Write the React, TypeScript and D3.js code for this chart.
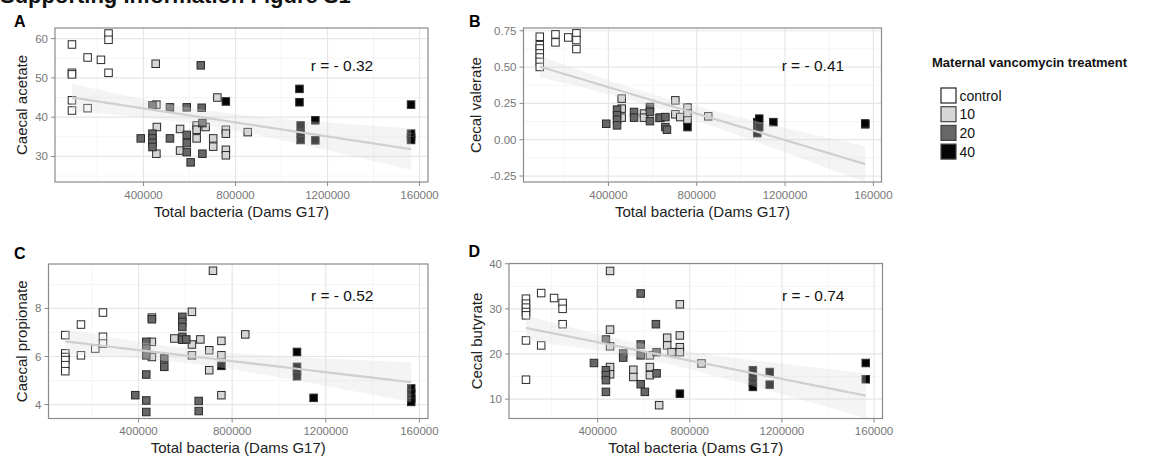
import * as React from 'react'
import * as d3 from 'd3'

// dose groups (legend order)
const doses = ['control', '10', '20', '40']
const doseFill = ['#ffffff', '#d6d6d6', '#676767', '#050505']

// shared x axis
const xDomain = [15300, 1636700]
const xTicks = [400000, 800000, 1200000, 1600000]
const xTickLabels = ['400000', '800000', '1200000', '160000']
const xMinor = [200000, 600000, 1000000, 1400000]

// [total bacteria, value, dose index]
const acetate = [
  [89000, 58.5, 0], [89000, 51.3, 0], [89000, 50.9, 0], [89000, 44.3, 0], [89000, 41.7, 0],
  [157000, 55.2, 0], [157000, 42.3, 0], [215000, 54.6, 0], [248000, 61.3, 0], [248000, 59.7, 0], [248000, 51.3, 0],
  [453000, 53.6, 1], [456000, 43.2, 1], [458000, 37.5, 1], [456000, 30.7, 1], [559000, 37.0, 1], [559000, 31.5, 1],
  [631000, 37.9, 1], [631000, 36.8, 1], [631000, 34.6, 1], [670000, 37.5, 1], [703000, 34.6, 1], [703000, 32.5, 1],
  [721000, 45.0, 1], [758000, 36.8, 1], [758000, 35.8, 1], [758000, 31.7, 1], [758000, 30.3, 1], [853000, 36.2, 1],
  [388000, 34.6, 2], [439000, 43.0, 2], [439000, 35.8, 2], [439000, 34.6, 2], [439000, 33.5, 2], [439000, 32.4, 2],
  [515000, 42.5, 2], [515000, 34.6, 2], [588000, 42.5, 2], [588000, 35.5, 2], [588000, 33.4, 2], [588000, 31.1, 2],
  [605000, 28.5, 2], [649000, 53.2, 2], [653000, 42.4, 2], [656000, 38.5, 2], [656000, 30.7, 2],
  [758000, 44.0, 3], [1078000, 47.2, 3], [1078000, 43.8, 3], [1083000, 37.9, 3], [1083000, 35.9, 3], [1083000, 34.2, 3],
  [1147000, 39.2, 3], [1147000, 34.1, 3], [1563000, 43.2, 3], [1563000, 35.8, 3], [1563000, 34.9, 3], [1563000, 34.2, 3],
]

const valerate = [
  [89000, 0.709, 0], [89000, 0.651, 0], [89000, 0.628, 0], [89000, 0.594, 0], [89000, 0.566, 0], [89000, 0.536, 0],
  [89000, 0.501, 0], [160000, 0.725, 0], [160000, 0.67, 0], [218000, 0.704, 0], [255000, 0.732, 0], [255000, 0.686, 0],
  [255000, 0.624, 0],
  [460000, 0.283, 1], [460000, 0.214, 1], [460000, 0.152, 1], [561000, 0.18, 1], [561000, 0.152, 1], [631000, 0.15, 1],
  [703000, 0.271, 1], [703000, 0.175, 1], [725000, 0.156, 1], [758000, 0.221, 1], [758000, 0.18, 1], [758000, 0.133, 1],
  [852000, 0.161, 1],
  [390000, 0.11, 2], [439000, 0.207, 2], [439000, 0.168, 2], [439000, 0.138, 2], [439000, 0.099, 2], [516000, 0.191, 2],
  [516000, 0.152, 2], [588000, 0.225, 2], [588000, 0.191, 2], [588000, 0.128, 2], [636000, 0.152, 2], [658000, 0.156, 2],
  [658000, 0.087, 2], [665000, 0.069, 2],
  [758000, 0.087, 3], [1074000, 0.121, 3], [1074000, 0.1, 3], [1074000, 0.064, 3], [1074000, 0.045, 3],
  [1083000, 0.145, 3], [1083000, 0.087, 3], [1147000, 0.121, 3], [1563000, 0.106, 3], [1563000, 0.112, 3],
]

const propionate = [
  [87000, 6.89, 0], [87000, 6.13, 0], [87000, 5.98, 0], [87000, 5.85, 0], [87000, 5.64, 0], [87000, 5.39, 0],
  [154000, 7.33, 0], [154000, 6.05, 0], [215000, 6.33, 0], [248000, 7.83, 0], [248000, 6.82, 0], [248000, 6.54, 0],
  [457000, 7.62, 1], [457000, 6.61, 1], [457000, 5.98, 1], [553000, 6.75, 1], [628000, 7.86, 1], [628000, 6.5, 1],
  [628000, 6.05, 1], [664000, 6.71, 1], [702000, 6.26, 1], [702000, 5.43, 1], [718000, 9.57, 1], [754000, 6.65, 1],
  [754000, 6.05, 1], [754000, 4.39, 1], [856000, 6.92, 1],
  [386000, 4.39, 2], [433000, 6.61, 2], [433000, 6.33, 2], [433000, 6.05, 2], [433000, 5.25, 2], [433000, 4.17, 2],
  [433000, 3.69, 2], [457000, 7.55, 2], [510000, 5.92, 2], [510000, 5.57, 2], [587000, 7.65, 2], [587000, 7.44, 2],
  [587000, 7.23, 2], [587000, 6.82, 2], [587000, 6.7, 2], [604000, 6.71, 2], [657000, 4.15, 2], [657000, 3.73, 2],
  [754000, 5.61, 3], [1077000, 6.19, 3], [1077000, 5.57, 3], [1077000, 5.36, 3], [1077000, 5.18, 3], [1148000, 4.28, 3],
  [1565000, 4.67, 3], [1565000, 4.46, 3], [1565000, 4.25, 3], [1565000, 4.11, 3],
]

const butyrate = [
  [89000, 32.25, 0], [89000, 31.15, 0], [89000, 30.27, 0], [89000, 29.3, 0], [89000, 28.56, 0], [89000, 23.0, 0],
  [89000, 14.3, 0], [155000, 33.5, 0], [155000, 21.9, 0], [211000, 32.4, 0], [248000, 31.3, 0], [248000, 30.0, 0],
  [248000, 26.6, 0],
  [454000, 38.4, 1], [454000, 25.4, 1], [454000, 21.7, 1], [454000, 17.1, 1], [454000, 15.5, 1], [555000, 16.5, 1],
  [555000, 14.9, 1], [627000, 19.7, 1], [627000, 17.1, 1], [627000, 15.3, 1], [667000, 8.65, 1], [702000, 23.6, 1],
  [702000, 21.9, 1], [721000, 20.4, 1], [757000, 31.0, 1], [757000, 24.1, 1], [757000, 21.5, 1], [757000, 20.4, 1],
  [851000, 17.9, 1],
  [384000, 18.0, 2], [436000, 23.2, 2], [436000, 16.4, 2], [436000, 15.3, 2], [436000, 14.2, 2], [436000, 11.6, 2],
  [511000, 20.1, 2], [511000, 19.2, 2], [587000, 33.4, 2], [587000, 22.1, 2], [587000, 19.7, 2], [587000, 13.3, 2],
  [605000, 11.6, 2], [653000, 26.6, 2], [656000, 20.4, 2], [656000, 15.7, 2],
  [757000, 11.2, 3], [1074000, 16.4, 3], [1074000, 14.9, 3], [1074000, 13.8, 3], [1074000, 12.7, 3],
  [1147000, 16.0, 3], [1147000, 13.2, 3], [1564000, 18.0, 3], [1564000, 14.4, 3],
]

const panels = [
  {
    tag: 'A', yLabel: 'Caecal acetate', data: acetate, r: 'r = - 0.32', rAt: [1263000, 53.2],
    yDomain: [23.5, 62.7], yTicks: [30, 40, 50, 60], yMinor: [25, 35, 45, 55], digits: 0,
    box: {x0: 55, x1: 428, y0: 28, y1: 182}, tagAt: [14, 26.7], titleX: 26.5,
  },
  {
    tag: 'B', yLabel: 'Cecal valerate', data: valerate, r: 'r = - 0.41', rAt: [1326000, 0.51],
    yDomain: [-0.291, 0.769], yTicks: [-0.25, 0, 0.25, 0.5, 0.75], yMinor: [-0.125, 0.125, 0.375, 0.625], digits: 2,
    box: {x0: 523.5, x1: 881.5, y0: 28, y1: 182}, tagAt: [469, 26.7], titleX: 481,
  },
  {
    tag: 'C', yLabel: 'Caecal propionate', data: propionate, r: 'r = - 0.52', rAt: [1270000, 8.54],
    yDomain: [3.42, 9.85], yTicks: [4, 6, 8], yMinor: [3, 5, 7, 9], digits: 0,
    box: {x0: 48.5, x1: 428, y0: 264, y1: 418.5}, tagAt: [14, 259], titleX: 26.5,
  },
  {
    tag: 'D', yLabel: 'Cecal butyrate', data: butyrate, r: 'r = - 0.74', rAt: [1336000, 32.9],
    yDomain: [5.7, 40.05], yTicks: [10, 20, 30, 40], yMinor: [15, 25, 35], digits: 0,
    box: {x0: 509, x1: 882.5, y0: 263.5, y1: 418.5}, tagAt: [468.5, 257], titleX: 481.5,
  },
]

const FONT = '"Liberation Sans", Arial, Helvetica, sans-serif'

// lm fit with 95% confidence band, like geom_smooth(method = 'lm')
function linearFit(data) {
  const n = data.length
  const mx = d3.mean(data, d => d[0])
  const my = d3.mean(data, d => d[1])
  const sxx = d3.sum(data, d => (d[0] - mx) ** 2)
  const sxy = d3.sum(data, d => (d[0] - mx) * (d[1] - my))
  const b = sxy / sxx
  const a = my - b * mx
  const sse = d3.sum(data, d => (d[1] - a - b * d[0]) ** 2)
  const s = Math.sqrt(sse / (n - 2))
  const t = 2.0
  const [lo, hi] = d3.extent(data, d => d[0])
  return d3.range(0, 81).map(i => {
    const x = lo + (hi - lo) * i / 80
    const y = a + b * x
    const se = s * Math.sqrt(1 / n + (x - mx) ** 2 / sxx)
    return {x, y, lo: y - t * se, hi: y + t * se}
  })
}

function Panel({p}) {
  const {box} = p
  const x = d3.scaleLinear().domain(xDomain).range([box.x0, box.x1])
  const y = d3.scaleLinear().domain(p.yDomain).range([box.y1, box.y0])
  const fit = linearFit(p.data)
  const band = d3.area().x(d => x(d.x)).y0(d => y(d.lo)).y1(d => y(d.hi))
  const line = d3.line().x(d => x(d.x)).y(d => y(d.y))
  const yIn = p.yMinor.filter(v => v > p.yDomain[0] && v < p.yDomain[1])
  const size = 7.5
  const cx = (box.x0 + box.x1) / 2
  const cy = (box.y0 + box.y1) / 2

  return (
    <g>
      <text x={p.tagAt[0]} y={p.tagAt[1]} fontSize={16} fontWeight="bold" fill="#000">{p.tag}</text>
      <rect x={box.x0} y={box.y0} width={box.x1 - box.x0} height={box.y1 - box.y0} fill="#fff" />
      {xMinor.map(v => (
        <line key={'xm' + v} x1={x(v)} x2={x(v)} y1={box.y0} y2={box.y1} stroke="#f2f2f2" strokeWidth={0.8} />
      ))}
      {yIn.map(v => (
        <line key={'ym' + v} x1={box.x0} x2={box.x1} y1={y(v)} y2={y(v)} stroke="#f2f2f2" strokeWidth={0.8} />
      ))}
      {xTicks.map(v => (
        <line key={'xg' + v} x1={x(v)} x2={x(v)} y1={box.y0} y2={box.y1} stroke="#e6e6e6" strokeWidth={1.2} />
      ))}
      {p.yTicks.map(v => (
        <line key={'yg' + v} x1={box.x0} x2={box.x1} y1={y(v)} y2={y(v)} stroke="#e6e6e6" strokeWidth={1.2} />
      ))}
      {p.data.map((d, i) => (
        <rect key={i} x={x(d[0]) - size / 2} y={y(d[1]) - size / 2} width={size} height={size}
          fill={doseFill[d[2]]} stroke="#2a2a2a" strokeWidth={1} />
      ))}
      <path d={band(fit)} fill="#d9d9d9" fillOpacity={0.3} />
      <path d={line(fit)} fill="none" stroke="#cfcfcf" strokeWidth={2.2} />
      <rect x={box.x0} y={box.y0} width={box.x1 - box.x0} height={box.y1 - box.y0} fill="none" stroke="#8a8a8a" strokeWidth={1.2} />
      {xTicks.map((v, i) => (
        <g key={'xt' + v}>
          <line x1={x(v)} x2={x(v)} y1={box.y1} y2={box.y1 + 4} stroke="#8a8a8a" />
          <text x={x(v)} y={box.y1 + 16.5} textAnchor="middle" fontSize={11.5} fill="#777">{xTickLabels[i]}</text>
        </g>
      ))}
      {p.yTicks.map(v => (
        <g key={'yt' + v}>
          <line x1={box.x0 - 4} x2={box.x0} y1={y(v)} y2={y(v)} stroke="#8a8a8a" />
          <text x={box.x0 - 7} y={y(v) + 4} textAnchor="end" fontSize={11.5} fill="#777">{v.toFixed(p.digits)}</text>
        </g>
      ))}
      <text x={x(p.rAt[0])} y={y(p.rAt[1]) + 5.5} textAnchor="middle" fontSize={15.5} fill="#111">{p.r}</text>
      <text x={cx} y={box.y1 + 34.5} textAnchor="middle" fontSize={15} fill="#222">Total bacteria (Dams G17)</text>
      <text transform={`translate(${p.titleX},${cy}) rotate(-90)`} textAnchor="middle" fontSize={15} fill="#222">{p.yLabel}</text>
    </g>
  )
}

function Legend() {
  const y = d3.scaleBand().domain(doses).range([88, 88 + 18.7 * doses.length])
  return (
    <g>
      <text x={932} y={66.5} fontSize={13} fontWeight="bold" fill="#111">Maternal vancomycin treatment</text>
      {doses.map((d, i) => (
        <g key={d}>
          <rect x={941} y={y(d)} width={15} height={15} fill={doseFill[i]} stroke={i === 0 ? '#222' : '#444'} strokeWidth={1.2} />
          <text x={959.5} y={y(d) + 12.5} fontSize={14} fill="#111">{d}</text>
        </g>
      ))}
    </g>
  )
}

export default function App() {
  return (
    <svg width={1173} height={456} fontFamily={FONT}
      style={{position: 'absolute', left: 0, top: 0, background: '#fff'}}>
      <rect width={1173} height={456} fill="#fff" />
      <text x={0} y={3} fontSize={22} fontWeight="bold" fill="#111">Supporting Information Figure S1</text>
      {panels.map(p => <Panel key={p.tag} p={p} />)}
      <Legend />
    </svg>
  )
}
